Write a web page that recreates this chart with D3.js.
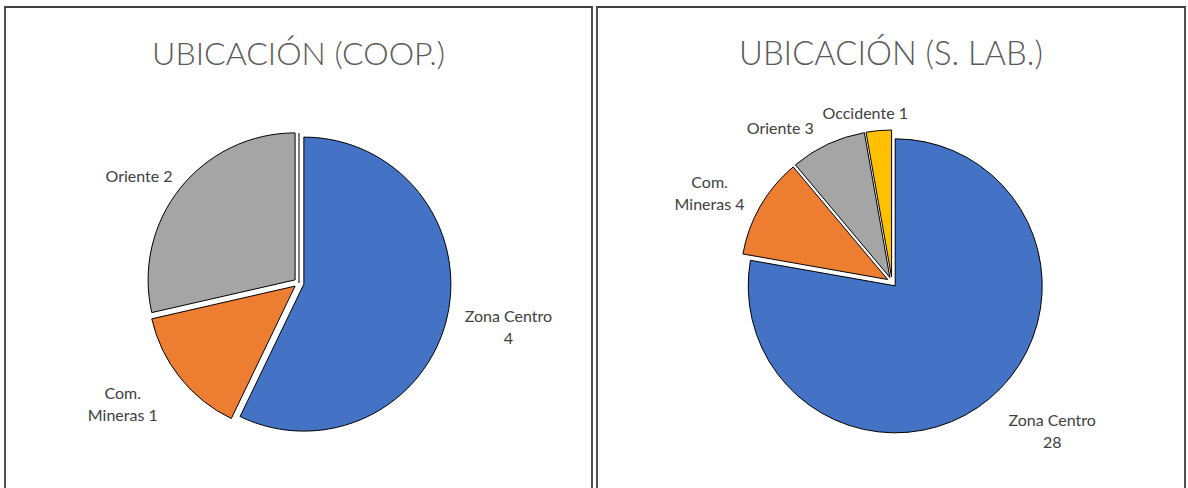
<!DOCTYPE html>
<html lang="es">

<head>
    <meta charset="UTF-8" />
    <title>Ubicación</title>
    <script src="https://d3js.org/d3.v7.min.js"></script>
    <style>
        body {
            margin: 0;
            background: #fff;
            font-family: Lato, "Open Sans", sans-serif;
        }
    </style>
</head>

<body>
    <div id="chart"></div>

    <script>
        // Data
        var coopCategories = ["Zona Centro", "Com. Mineras", "Oriente"];
        var coopValues = [4, 1, 2];
        var coopLabels = [["Zona Centro", "4"], ["Com.", "Mineras 1"], ["Oriente 2"]];

        var labCategories = ["Zona Centro", "Com. Mineras", "Oriente", "Occidente"];
        var labValues = [28, 4, 3, 1];
        var labLabels = [["Zona Centro", "28"], ["Com.", "Mineras 4"], ["Oriente 3"], ["Occidente 1"]];

        var sliceColors = ["#4472C4", "#ED7D31", "#A5A5A5", "#FFC000"];

        var w = 1188;
        var h = 488;
        var radius = 147;
        var explode = 5;

        var svg = d3.select("#chart")
            .append("svg")
            .attr("width", w)
            .attr("height", h);

        svg.append("rect").attr("width", w).attr("height", h).attr("fill", "#fff");

        // one panel per chart; label placement = [distance, angle nudge in degrees]
        var panels = [
            {
                title: "UBICACIÓN (COOP.)", titleWidth: 293,
                x0: 5, x1: 592, cx: 299, cy: 283,
                categories: coopCategories, values: coopValues, labels: coopLabels,
                labelPos: [[214, -1], [214, 4], [192, -5]],
                divider: true
            },
            {
                title: "UBICACIÓN (S. LAB.)", titleWidth: 304,
                x0: 597, x1: 1185, cx: 892, cy: 282,
                categories: labCategories, values: labValues, labels: labLabels,
                labelPos: [[219, -7], [203, -4], [190, -11], [171, -4]],
                divider: false
            }
        ];

        var arc = d3.arc().innerRadius(0).outerRadius(radius);

        panels.forEach(function(p) {
            // panel frame (bottom edge is cut off by the picture)
            svg.append("path")
                .attr("d", "M" + p.x0 + "," + h + "V7H" + p.x1 + "V" + h)
                .attr("fill", "none")
                .attr("stroke", "#3f3f3f")
                .attr("stroke-width", 1.8);

            // title, fitted to the width seen in the picture
            var title = svg.append("text")
                .text(p.title)
                .attr("x", (p.x0 + p.x1) / 2)
                .attr("y", 65)
                .attr("text-anchor", "middle")
                .attr("fill", "#595959")
                .style("font-weight", 300)
                .style("font-size", "28px");
            var tw = title.node().getComputedTextLength();
            title.style("font-size", (28 * p.titleWidth / tw) + "px");

            var pie = d3.pie().sort(null).value(function(d) { return d; });
            var arcs = pie(p.values);

            var g = svg.append("g").attr("transform", "translate(" + p.cx + "," + p.cy + ")");

            if (p.divider) {
                g.append("line")
                    .attr("x1", 0).attr("y1", 0)
                    .attr("x2", 0).attr("y2", -radius - 3)
                    .attr("stroke", "#7f7f7f")
                    .attr("stroke-width", 2);
            }

            g.selectAll("path.slice")
                .data(arcs)
                .enter()
                .append("path")
                .attr("class", "slice")
                .attr("d", arc)
                .attr("transform", function(d) {
                    var a = (d.startAngle + d.endAngle) / 2;
                    return "translate(" + (explode * Math.sin(a)) + "," + (-explode * Math.cos(a)) + ")";
                })
                .attr("fill", function(d, i) { return sliceColors[i]; })
                .attr("stroke", "#000")
                .attr("stroke-width", 1);

            // data labels outside the pie
            var labels = g.selectAll("text.label")
                .data(arcs)
                .enter()
                .append("text")
                .attr("class", "label")
                .attr("text-anchor", "middle")
                .attr("fill", "#404040")
                .style("font-size", "16px")
                .attr("transform", function(d, i) {
                    var a = (d.startAngle + d.endAngle) / 2 + p.labelPos[i][1] * Math.PI / 180;
                    var r = p.labelPos[i][0];
                    return "translate(" + (r * Math.sin(a)) + "," + (-r * Math.cos(a)) + ")";
                });

            labels.each(function(d, i) {
                var lines = p.labels[i];
                var t = d3.select(this);
                lines.forEach(function(line, k) {
                    t.append("tspan")
                        .attr("x", 0)
                        .attr("y", (k - (lines.length - 1) / 2) * 22)
                        .attr("dy", "0.35em")
                        .text(line);
                });
            });
        });
    </script>
</body>

</html>
